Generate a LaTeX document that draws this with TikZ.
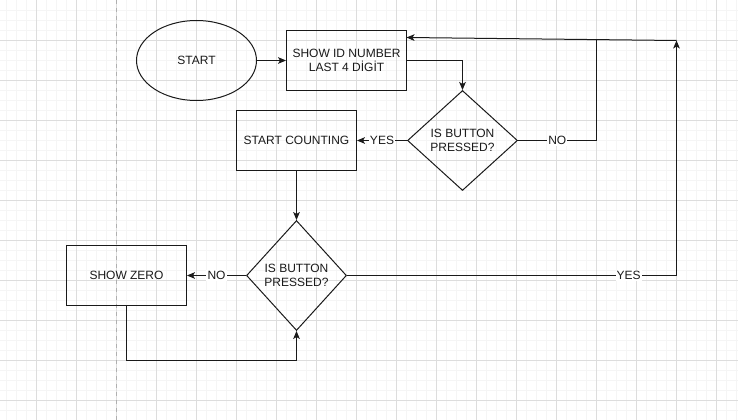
\documentclass[tikz,border=0pt]{standalone}
\usepackage{fontspec}
\setmainfont{Liberation Sans}
\usetikzlibrary{shapes.geometric,arrows.meta}
\definecolor{minorgrid}{HTML}{F5F5F5}
\definecolor{majorgrid}{HTML}{DDDDDD}
\definecolor{pagebreak}{HTML}{B0B0B0}
\definecolor{ink}{HTML}{1A1A1A}
\begin{document}
\begin{tikzpicture}[x=0.75pt,y=-0.75pt,
  every node/.style={font=\fontsize{9pt}{10.5pt}\selectfont, text=ink},
  box/.style={draw=ink, line width=0.75pt, minimum width=90pt, minimum height=45pt, inner sep=0pt, align=center},
  startshape/.style={draw=ink, line width=0.75pt, ellipse, minimum width=90pt, minimum height=60pt, inner sep=0pt},
  decision/.style={draw=ink, line width=0.75pt, diamond, aspect=1, inner sep=0pt, align=center},
  conn/.style={draw=ink, line width=0.75pt},
  arr/.style={conn, -{Stealth[length=6pt,width=5pt,inset=1.5pt]}},
  lbl/.style={fill=white, inner sep=0.8pt},
  minor/.style={draw=minorgrid, line width=0.75pt},
  major/.style={draw=majorgrid, line width=0.75pt}
]
\useasboundingbox (0,0) rectangle (738,420);
\fill[white] (0,0) rectangle (738,420);
% grid
\foreach \x in {6.5,16.5,...,736.5} \draw[minor] (\x,0) -- (\x,420);
\foreach \y in {10.5,20.5,...,410.5} \draw[minor] (0,\y) -- (738,\y);
\foreach \x in {36.5,76.5,...,716.5} \draw[major] (\x,0) -- (\x,420);
\foreach \y in {40.5,80.5,...,400.5} \draw[major] (0,\y) -- (738,\y);
\draw[pagebreak, line width=0.75pt, dash pattern=on 3pt off 3pt] (116.5,0) -- (116.5,420);

% nodes
\node[startshape] (start) at (196.5,60.5) {START};
\node[box] (show) at (346.5,60.5) {SHOW ID NUMBER\\LAST 4 DİGİT};
\node[decision, minimum width=82.5pt, minimum height=75pt] (d1) at (462.5,140.5) {IS BUTTON\\PRESSED?};
\node[box] (count) at (296.5,140.5) {START COUNTING};
\node[decision, minimum width=75pt, minimum height=82.5pt] (d2) at (296.5,275.5) {IS BUTTON\\PRESSED?};
\node[box] (zero) at (126.5,275.5) {SHOW ZERO};

\coordinate (topright) at (676.5,40.5);
\coordinate (showin) at (406.5,37.5);
\coordinate (nocorner) at (596.5,140.5);
\coordinate (nojoin) at (596.5,39.5);
\coordinate (yescorner) at (676.5,275.5);
\coordinate (zerocorner) at (126.5,360.5);

% connectors
\draw[arr] (start.east) -- (show.west);
\draw[arr] (show.east) -| (d1.north);
\draw[arr] (d1.west) -- node[lbl]{YES} (count.east);
\draw[conn] (d1.east) -- node[lbl]{NO} (nocorner) -- (nojoin);
\draw[arr] (topright) -- (showin);
\draw[arr] (count.south) -- (d2.north);
\draw[arr] (d2.west) -- node[lbl]{NO} (zero.east);
\draw[arr] (zero.south) -- (zerocorner) -| (d2.south);
\draw[arr] (d2.east) -- node[lbl,pos=0.855]{YES} (yescorner) -- (topright);
\end{tikzpicture}
\end{document}
